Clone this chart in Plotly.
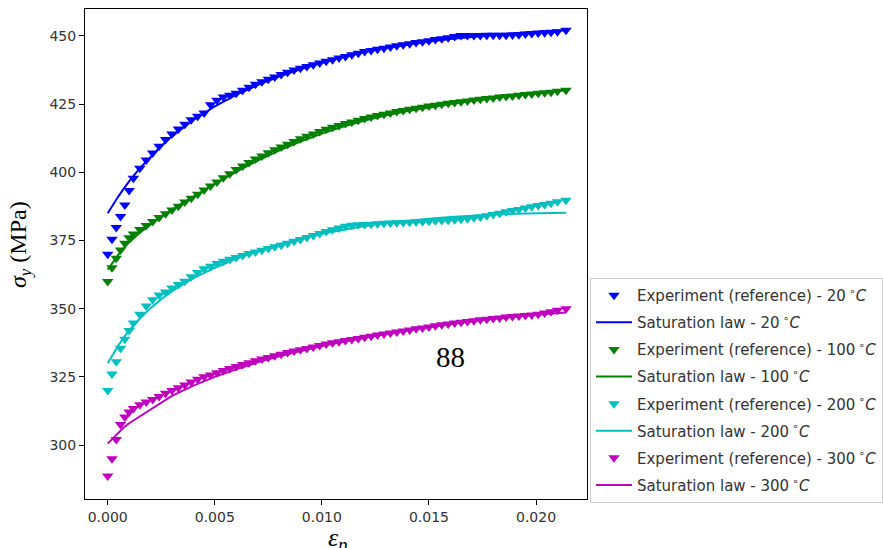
import plotly.graph_objects as go

# ---------------- data ----------------
EXP_STRAIN = [0.0, 0.0002, 0.0004, 0.0006, 0.0008, 0.001, 0.0012, 0.0015, 0.0018, 0.0021,
              0.0024, 0.0027, 0.003, 0.0033, 0.0036, 0.0039, 0.0042, 0.0045, 0.0048, 0.0051,
              0.0054, 0.0057, 0.006, 0.0063, 0.0066, 0.0069, 0.0072, 0.0075, 0.0078, 0.0081,
              0.0084, 0.0087, 0.009, 0.0093, 0.0096, 0.0099, 0.0102, 0.0105, 0.0108, 0.0111,
              0.0114, 0.0117, 0.012, 0.0123, 0.0126, 0.0129, 0.0132, 0.0135, 0.0138, 0.0141,
              0.0144, 0.0147, 0.015, 0.0153, 0.0156, 0.0159, 0.0162, 0.0165, 0.0168, 0.0171,
              0.0174, 0.0177, 0.018, 0.0183, 0.0186, 0.0189, 0.0192, 0.0195, 0.0198, 0.0201,
              0.0204, 0.0207, 0.021, 0.0214]

EXP_20 = [370, 375.5, 379.8, 383.8, 388, 393.3, 397.8, 401.5, 404.5, 407.1,
          409.6, 412, 414.1, 415.9, 417.6, 419.3, 420.6, 421.8, 424.8, 426.4,
          427.6, 428.3, 429, 430.1, 431.2, 432.3, 433.2, 434.1, 435, 435.9,
          436.7, 437.5, 438.2, 438.8, 439.5, 440.1, 440.7, 441.3, 441.9, 442.5,
          443.1, 443.7, 444.3, 444.7, 445.1, 445.5, 446, 446.4, 446.8, 447.2,
          447.6, 447.9, 448.3, 448.7, 449, 449.4, 449.8, 450.2, 450.2, 450.2,
          450.2, 450.3, 450.3, 450.3, 450.3, 450.4, 450.5, 450.7, 450.9, 451.1,
          451.2, 451.4, 451.6, 452.1]

EXP_100 = [360, 365, 368.5, 371.5, 374, 376, 377.4, 379, 380.5, 382,
           383.4, 384.8, 386.2, 387.6, 389.1, 390.5, 392, 393.5, 395, 396.5,
           398, 399.5, 401, 402.3, 403.6, 404.9, 406, 407.2, 408.3, 409.3,
           410.3, 411.3, 412.3, 413.2, 414.1, 415, 415.8, 416.5, 417.2, 417.9,
           418.5, 419.1, 419.7, 420.3, 420.8, 421.3, 421.8, 422.3, 422.7, 423.1,
           423.5, 423.9, 424.3, 424.6, 425, 425.3, 425.6, 425.9, 426.2, 426.5,
           426.8, 427.1, 427.3, 427.6, 427.8, 428, 428.3, 428.5, 428.7, 429,
           429.2, 429.4, 429.7, 430.1]

EXP_200 = [320, 326, 330.5, 335.5, 338.8, 342, 344.7, 348, 351, 353.3,
           355, 356.1, 357.6, 358.9, 360.1, 361.7, 363.3, 364.6, 365.6, 366.6,
           367.4, 368.1, 368.8, 369.5, 370.2, 370.8, 371.4, 372.1, 372.7, 373.3,
           374, 374.7, 375.4, 376.1, 376.8, 377.6, 378.3, 378.9, 379.6, 380.2,
           380.6, 380.8, 380.9, 381, 381.1, 381.3, 381.4, 381.5, 381.6, 381.7,
           381.8, 382, 382.1, 382.2, 382.3, 382.4, 382.6, 382.8, 383, 383.3,
           383.6, 384.1, 384.5, 385, 385.5, 386, 386.4, 386.9, 387.4, 387.8,
           388.2, 388.7, 389.2, 389.8]

EXP_300 = [288.6, 295, 302, 307.5, 310.3, 312.1, 313.4, 314.8, 315.8, 316.7,
           317.8, 319, 320, 321, 322, 323.1, 324.1, 325, 325.7, 326.5,
           327.3, 328.1, 328.8, 329.5, 330.2, 330.9, 331.5, 332.1, 332.7, 333.3,
           333.9, 334.5, 334.9, 335.4, 335.9, 336.5, 337, 337.5, 337.9, 338.3,
           338.7, 339.1, 339.5, 339.9, 340.3, 340.7, 341.1, 341.4, 341.8, 342.2,
           342.6, 342.9, 343.3, 343.7, 344.1, 344.4, 344.7, 345, 345.3, 345.6,
           345.9, 346.1, 346.4, 346.6, 346.9, 347.1, 347.3, 347.5, 347.7, 348,
           348.4, 348.9, 349.4, 350]

LAW_STRAIN = [0.0, 0.00025, 0.0005, 0.00075, 0.001, 0.0015, 0.002, 0.0025, 0.003, 0.004,
              0.005, 0.006, 0.007, 0.008, 0.009, 0.01, 0.011, 0.012, 0.013, 0.014,
              0.015, 0.016, 0.017, 0.018, 0.019, 0.02, 0.0214]

LAW_20 = [385, 388.2, 391.2, 394, 396.7, 401.5, 405.8, 409.7, 413.2, 419.2,
          424.2, 428.4, 432, 435.1, 437.8, 440.2, 442.3, 444.1, 445.6, 446.9,
          448, 448.9, 449.7, 450.4, 451, 451.5, 452.1]
LAW_100 = [364.3, 367.2, 369.8, 372.2, 374.3, 377.9, 381, 383.8, 386.4, 391.2,
           395.8, 400.2, 404.3, 408, 411.3, 414.2, 416.8, 419, 420.9, 422.5,
           423.9, 425.1, 426.2, 427.2, 428.1, 429, 430.1]
LAW_200 = [330, 333.5, 336.6, 339.4, 342, 346.4, 350.2, 353.5, 356.4, 361.2,
           365, 368.3, 371.1, 373.6, 375.7, 377.5, 379, 380.3, 381.4, 382.3,
           383, 383.6, 384.1, 384.5, 384.8, 385, 385.2]
LAW_300 = [300.5, 302.6, 304.6, 306.4, 308, 310.5, 313.3, 315.8, 318, 321.8,
           325, 327.8, 330.3, 332.5, 334.5, 336.3, 337.9, 339.4, 340.8, 342.1,
           343.3, 344.4, 345.4, 346.3, 347.1, 347.8, 348.6]

TEMPS = ["20", "100", "200", "300"]
COLORS = ["#0000FF", "#008000", "#00BFBF", "#BF00BF"]
X_TICKS = [0.0, 0.005, 0.01, 0.015, 0.02]
X_TICK_TEXT = ["0.000", "0.005", "0.010", "0.015", "0.020"]
Y_TICKS = [300, 325, 350, 375, 400, 425, 450]

# ---------------- figure ----------------
fig = go.Figure()
exp_sets = [EXP_20, EXP_100, EXP_200, EXP_300]
law_sets = [LAW_20, LAW_100, LAW_200, LAW_300]
for i, (t, c) in enumerate(zip(TEMPS, COLORS)):
    fig.add_trace(go.Scatter(
        x=EXP_STRAIN, y=exp_sets[i], mode="markers",
        marker=dict(symbol="triangle-down", size=10, color=c, line=dict(width=0)),
        name=f"Experiment (reference) - {t}<sup> ∘</sup><i>C</i>",
        legendgroup=f"e{t}"))
    fig.add_trace(go.Scatter(
        x=LAW_STRAIN, y=law_sets[i], mode="lines",
        line=dict(color=c, width=2),
        name=f"Saturation law - {t}<sup> ∘</sup><i>C</i>",
        legendgroup=f"s{t}"))

L, R, T, B = 85, 587, 9, 499
W, H = 883, 548

axis_common = dict(showgrid=False, zeroline=False, showline=True, mirror=True,
                   linecolor="#000000", linewidth=1, ticks="outside", ticklen=5,
                   tickcolor="#000000", tickwidth=1,
                   tickfont=dict(family="DejaVu Sans", size=14, color="#333333"))

fig.update_layout(
    width=W, height=H,
    margin=dict(l=L, r=W - R, t=T, b=H - B, pad=0, autoexpand=False),
    plot_bgcolor="white", paper_bgcolor="white",
    xaxis=dict(range=[-0.00106, 0.02238], tickvals=X_TICKS, ticktext=X_TICK_TEXT,
               **axis_common),
    yaxis=dict(range=[280.2, 459.9], tickvals=Y_TICKS, **axis_common),
    showlegend=True,
    legend=dict(x=(590 - L) / (R - L), y=(B - 278) / (B - T), xanchor="left", yanchor="top",
                bgcolor="white", bordercolor="#cccccc", borderwidth=1,
                font=dict(family="DejaVu Sans", size=15, color="#333333"),
                tracegroupgap=4.6, itemwidth=36),
    annotations=[
        dict(text="<i>σ<sub>y</sub></i> (MPa)", xref="paper", yref="paper",
             x=(20 - L) / (R - L), y=(B - 245) / (B - T), textangle=-90,
             showarrow=False, xanchor="center", yanchor="middle",
             font=dict(family="Liberation Serif", size=24, color="#000000")),
        dict(text="<i>ε<sub>p</sub></i>", xref="paper", yref="paper",
             x=(337 - L) / (R - L), y=(B - 521) / (B - T),
             showarrow=False, xanchor="center", yanchor="top",
             font=dict(family="Liberation Serif", size=26, color="#000000")),
        dict(text="88", xref="paper", yref="paper",
             x=(450 - L) / (R - L), y=(B - 357) / (B - T),
             showarrow=False, xanchor="center", yanchor="middle",
             font=dict(family="Liberation Serif", size=29, color="#000000")),
    ],
)

fig.write_html("out.html", config={"displayModeBar": False},
               post_script="document.body.style.margin='0';document.body.style.overflow='hidden';")
